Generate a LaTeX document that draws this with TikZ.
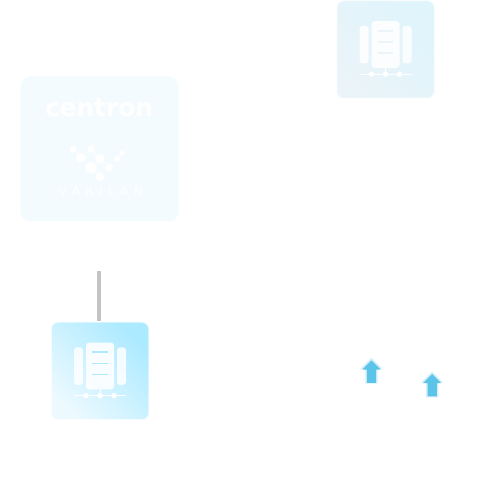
\documentclass[tikz,border=0pt]{standalone}
\usepackage{fontspec}
\setmainfont{DejaVu Sans}
\newfontfamily\spacedfont[LetterSpace=45]{DejaVu Sans}
\usetikzlibrary{positioning,shapes.arrows}
\definecolor{logocardbg}{HTML}{F4FBFE}
\definecolor{topcardleft}{HTML}{EAF4F9}
\definecolor{topcardright}{HTML}{E0F4FC}
\definecolor{lowcardleft}{HTML}{ECF9FF}
\definecolor{lowcardright}{HTML}{ACEAFF}
\definecolor{linkgray}{HTML}{C4C4C4}
\definecolor{flowblue}{HTML}{5BC4E8}
\tikzset{
  pics/servericon/.style={code={
    \fill[white, opacity=0.85, rounded corners=3pt] (-26,-14) rectangle (-17,23.7);
    \fill[white, opacity=0.85, rounded corners=3pt] (17,-14) rectangle (26,23.7);
    \fill[white, opacity=0.9, rounded corners=3pt] (-14,-18.3) rectangle (14,28.3);
    \foreach \rowy in {18.7,7.3,-3.7}
      \draw[#1, line width=1.6pt] (-7.7,\rowy) -- (7.7,\rowy);
    \draw[white, line width=1pt] (-26,-24.7) -- (26,-24.7) (0,-18.3) -- (0,-24.7);
    \foreach \dotx in {-14,0,14}
      \fill[white] (\dotx,-24.7) circle (2.7);
  }}
}
\begin{document}
\begin{tikzpicture}[x=1pt, y=1pt,
      card/.style={draw=white, draw opacity=0.7, line width=1.5pt, rounded corners=7pt, inner sep=0pt, minimum width=98pt, minimum height=98pt},
      logocard/.style={fill=logocardbg, rounded corners=10pt, inner sep=0pt, minimum width=158pt, minimum height=145pt},
      logodot/.style={circle, fill=white, inner sep=0pt},
      flowarrow/.style={single arrow, fill=flowblue, inner xsep=0pt, inner ysep=4.5pt, rotate=90, minimum height=22.5pt, single arrow head extend=4.5pt},
      flowglow/.style={single arrow, fill=flowblue!25, inner xsep=0pt, inner ysep=6pt, rotate=90, minimum height=26pt, single arrow head extend=5pt}]
    \fill[white] (0,0) rectangle (494,486);
    \useasboundingbox (0,0) rectangle (494,486);
    % cards
    \node[logocard] (varilan) at (99.5,337) {};
    \node[card, left color=topcardleft, right color=topcardright, shading angle=135] (topserver) at (385.5,436.5) {};
    \node[card, left color=lowcardleft, right color=lowcardright, shading angle=135] (lowserver) at (100,115) {};
    \pic at (topserver) {servericon=topcardleft};
    \pic at (lowserver) {servericon=lowcardright};
    % logo
    \node[white, font=\bfseries\fontsize{24.8}{26}\selectfont] (centron) at (99,378) {centron};
    \node[white, font=\fontsize{12}{13}\selectfont\spacedfont] (wordmark) at (101,295.2) {VARILAN};
    \node[logodot, minimum size=6.6pt] (d1) at (73.3,336.7) {};
    \node[logodot, minimum size=9.4pt] (d2) at (80.7,328.3) {};
    \node[logodot, minimum size=7.4pt] (d3) at (91,337) {};
    \node[logodot, minimum size=9.4pt] (d4) at (100,327.3) {};
    \node[logodot, minimum size=11.4pt] (d5) at (91,318.3) {};
    \node[logodot, minimum size=8pt] (d6) at (109,318.3) {};
    \node[logodot, minimum size=8.6pt] (d7) at (100,309.3) {};
    \node[logodot, minimum size=6pt] (d8) at (117,327) {};
    \node[logodot, minimum size=4.6pt] (d9) at (122.3,333) {};
    \draw[white, line width=1pt] (d1) -- (d2) (d3) -- (d4) (d4) -- (d6) (d8) -- (d9) (d5) -- (d7);
    % link
    \coordinate (linkstart) at (99,215);
    \draw[linkgray, line width=3.3pt] (linkstart) -- (linkstart |- lowserver.north);
    % arrows
    \node[flowglow] (glowa) at (371.5,112.2) {};
    \node[flowglow] (glowb) at (432.2,98.4) {};
    \node[flowarrow] (flowa) at (371.5,112) {};
    \node[flowarrow] (flowb) at (432.2,98.4) {};
\end{tikzpicture}
\end{document}
